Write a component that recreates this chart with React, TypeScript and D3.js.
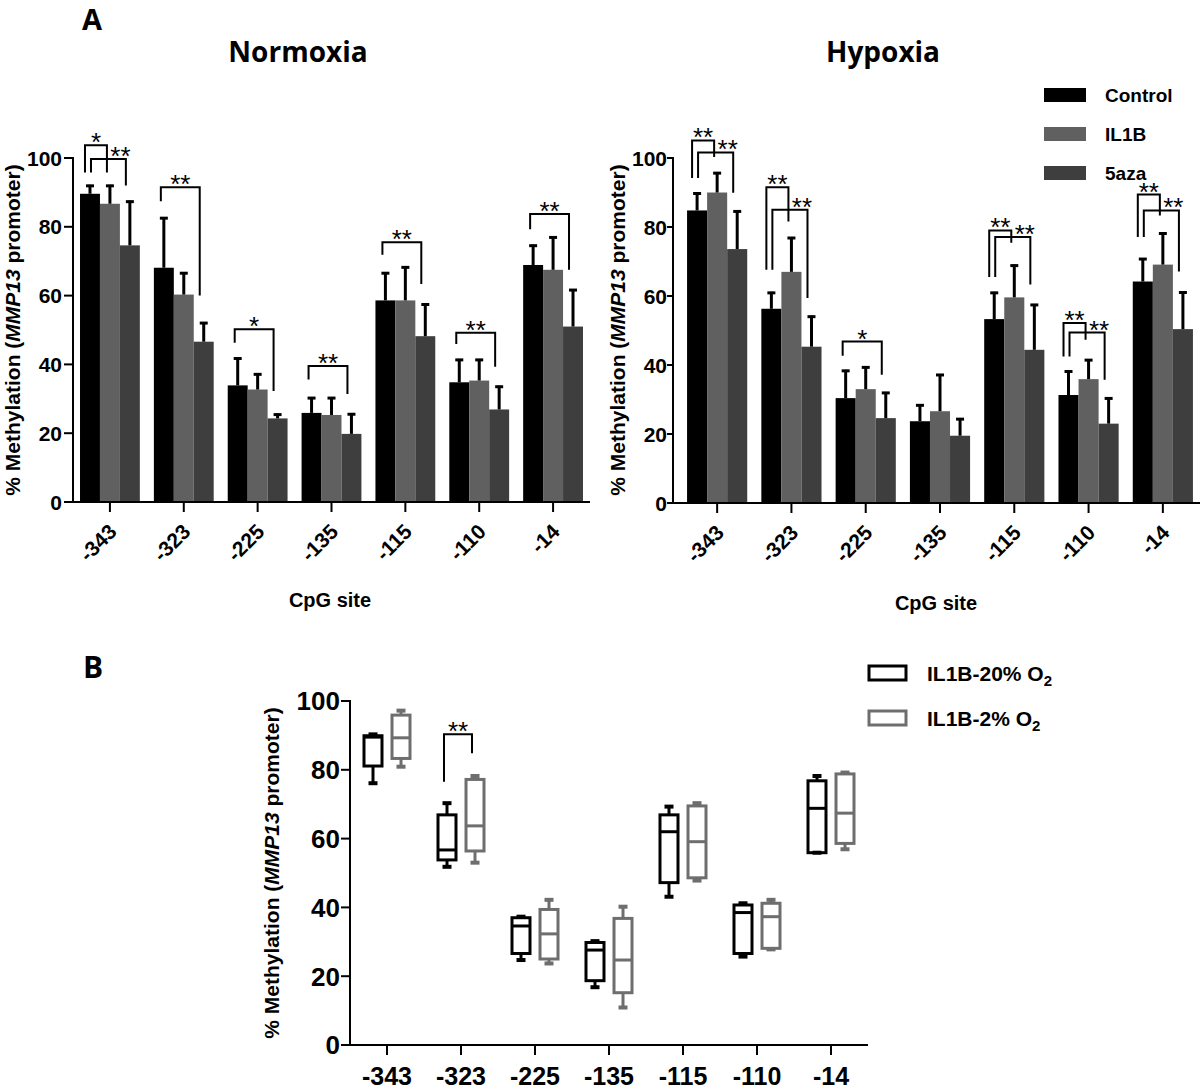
import React from 'react';
import * as d3 from 'd3';

// ---------- DATA ----------
const sites = ['-343', '-323', '-225', '-135', '-115', '-110', '-14'];
const treatments = ['Control', 'IL1B', '5aza'];
const treatmentColors = ['#000000', '#606060', '#3e3e3e'];
const yTicks = [0, 20, 40, 60, 80, 100];

// Normoxia (mean, SD)
const normoxiaControl = [89.6, 68.1, 33.9, 25.9, 58.6, 34.8, 68.9];
const normoxiaControlSD = [2.6, 14.7, 8.1, 4.6, 8.2, 6.8, 5.9];
const normoxiaIL1B = [86.7, 60.3, 32.7, 25.3, 58.6, 35.3, 67.5];
const normoxiaIL1BSD = [5.5, 6.5, 4.7, 5.2, 9.9, 6.3, 9.7];
const normoxia5aza = [74.6, 46.6, 24.3, 19.8, 48.2, 26.9, 51.0];
const normoxia5azaSD = [13.0, 5.7, 1.4, 6.0, 9.5, 6.9, 10.9];

// Hypoxia (mean, SD)
const hypoxiaControl = [84.8, 56.3, 30.4, 23.7, 53.3, 31.3, 64.2];
const hypoxiaControlSD = [5.2, 4.9, 8.2, 4.9, 7.9, 7.1, 6.8];
const hypoxiaIL1B = [90.0, 67.0, 33.0, 26.6, 59.6, 35.9, 69.1];
const hypoxiaIL1BSD = [5.9, 10.1, 6.6, 10.8, 9.5, 5.8, 9.3];
const hypoxia5aza = [73.6, 45.3, 24.6, 19.5, 44.4, 23.0, 50.4];
const hypoxia5azaSD = [11.2, 9.0, 7.6, 5.1, 13.3, 7.6, 10.9];

// significance brackets: site index, bars compared, heights (in % units)
const normoxiaBrackets = [
  { site: 0, from: 0, to: 1, top: 103.7, legFrom: 95.8, legTo: 95.8, label: '*', level: 1 },
  { site: 0, from: 0, to: 2, top: 99.7, legFrom: 95.8, legTo: 92.0, label: '**', level: 2 },
  { site: 1, from: 0, to: 2, top: 91.5, legFrom: 87.4, legTo: 60.0, label: '**', level: 0 },
  { site: 2, from: 0, to: 2, top: 50.2, legFrom: 46.3, legTo: 32.3, label: '*', level: 0 },
  { site: 3, from: 0, to: 2, top: 39.5, legFrom: 35.6, legTo: 31.4, label: '**', level: 0 },
  { site: 4, from: 0, to: 2, top: 75.5, legFrom: 71.9, legTo: 63.4, label: '**', level: 0 },
  { site: 5, from: 0, to: 2, top: 49.2, legFrom: 45.9, legTo: 39.3, label: '**', level: 0 },
  { site: 6, from: 0, to: 2, top: 83.7, legFrom: 79.3, legTo: 67.5, label: '**', level: 0 },
];
const hypoxiaBrackets = [
  { site: 0, from: 0, to: 1, top: 105.1, legFrom: 94.2, legTo: 100.3, label: '**', level: 1 },
  { site: 0, from: 0, to: 2, top: 101.6, legFrom: 94.2, legTo: 89.9, label: '**', level: 2 },
  { site: 1, from: 0, to: 1, top: 91.5, legFrom: 67.6, legTo: 81.6, label: '**', level: 1 },
  { site: 1, from: 0, to: 2, top: 85.0, legFrom: 67.6, legTo: 59.4, label: '**', level: 2 },
  { site: 2, from: 0, to: 2, top: 46.8, legFrom: 42.7, legTo: 37.2, label: '*', level: 0 },
  { site: 4, from: 0, to: 1, top: 79.0, legFrom: 65.5, legTo: 75.4, label: '**', level: 1 },
  { site: 4, from: 0, to: 2, top: 77.1, legFrom: 65.5, legTo: 63.3, label: '**', level: 2 },
  { site: 5, from: 0, to: 1, top: 52.2, legFrom: 42.5, legTo: 47.3, label: '**', level: 1 },
  { site: 5, from: 0, to: 2, top: 49.4, legFrom: 42.5, legTo: 35.7, label: '**', level: 2 },
  { site: 6, from: 0, to: 1, top: 89.4, legFrom: 77.1, legTo: 83.3, label: '**', level: 1 },
  { site: 6, from: 0, to: 2, top: 84.8, legFrom: 77.1, legTo: 67.1, label: '**', level: 2 },
];

// Panel B box plots: [min, q1, median, q3, max]
const boxSeries = ['IL1B-20% O', 'IL1B-2% O'];
const boxColors = ['#000000', '#6e6e6e'];
const il1b20 = [
  [76.1, 81.1, 89.5, 89.9, 90.3],
  [51.8, 53.8, 56.7, 66.9, 70.3],
  [24.7, 26.6, 34.6, 37.0, 37.3],
  [16.8, 18.7, 27.6, 29.8, 30.2],
  [43.1, 47.2, 62.0, 66.9, 69.3],
  [25.7, 26.6, 38.5, 40.7, 41.2],
  [55.9, 55.9, 68.8, 76.8, 78.2],
];
const il1b2 = [
  [80.9, 83.3, 89.3, 95.9, 97.2],
  [53.0, 56.4, 63.7, 77.2, 78.2],
  [23.7, 25.0, 32.3, 39.4, 42.2],
  [10.9, 15.2, 24.7, 36.8, 40.2],
  [47.8, 48.6, 59.1, 69.5, 70.3],
  [27.8, 28.1, 37.3, 41.2, 42.2],
  [56.9, 58.6, 67.4, 78.8, 79.2],
];
const boxBrackets = [{ site: 1, top: 90.3, legFrom: 76.5, legTo: 84.8, label: '**' }];

// ---------- STYLE ----------
const SANS = '"Liberation Sans", Arial, sans-serif';
const TITLE = '"Open Sans", sans-serif';

type Bracket = { site: number; from: number; to: number; top: number; legFrom: number; legTo: number; label: string; level: number };

function YTitle({ x, y, size }: { x: number; y: number; size: number }) {
  return (
    <text transform={`translate(${x},${y}) rotate(-90)`} textAnchor="middle" fontFamily={SANS}
      fontWeight="bold" fontSize={size} fill="#000">
      % Methylation (<tspan fontStyle="italic">MMP13</tspan> promoter)
    </text>
  );
}

function BarPanel({ x0, xStart, x1, yBottom, yTop, series, sds, brackets, title, titleX, cpgX, cpgY, tickLen, labelGap }:
  { x0: number; xStart: number; x1: number; yBottom: number; yTop: number; series: number[][]; sds: number[][];
    brackets: Bracket[]; title: string; titleX: number; cpgX: number; cpgY: number; tickLen: number; labelGap: number }) {
  const xs = d3.scaleBand<string>().domain(sites).range([xStart, x1]).paddingInner(0.19).paddingOuter(0.095);
  const xi = d3.scaleBand<string>().domain(treatments).range([0, xs.bandwidth()]);
  const y = d3.scaleLinear().domain([0, 100]).range([yBottom, yTop]);
  const bw = xi.bandwidth();
  const barCenter = (s: number, t: number) => (xs(sites[s]) as number) + (xi(treatments[t]) as number) + bw / 2;
  const offs: Record<number, [number, number]> = { 0: [-3, -4], 1: [-5, -3], 2: [1, -4] };
  return (
    <g>
      <text x={titleX} y={62} textAnchor="middle" fontFamily={TITLE} fontWeight="bold" fontSize={28}>{title}</text>
      {series.map((vals, t) => vals.map((v, s) => {
        const bx = (xs(sites[s]) as number) + (xi(treatments[t]) as number);
        return <rect key={`b${t}-${s}`} x={bx} y={y(v)} width={bw} height={y(0) - y(v)} fill={treatmentColors[t]} />;
      }))}
      {series.map((vals, t) => vals.map((v, s) => {
        const cx = barCenter(s, t);
        const top = y(v + sds[t][s]);
        return (
          <g key={`e${t}-${s}`} stroke="#000" strokeWidth={3}>
            <line x1={cx} x2={cx} y1={y(v)} y2={top} />
            <line x1={cx - 4} x2={cx + 4} y1={top + 1} y2={top + 1} />
          </g>
        );
      }))}
      {brackets.map((b, i) => {
        const [oa, ob] = offs[b.level];
        const xa = barCenter(b.site, b.from) + oa;
        const xb = barCenter(b.site, b.to) + ob;
        let sx = (xa + xb) / 2;
        if (b.level === 2) {
          const first = brackets.find(o => o.site === b.site && o.level === 1) as Bracket;
          const fr = barCenter(first.site, first.to) + offs[1][1];
          sx = (fr + xb) / 2 + 4;
        }
        return (
          <g key={`k${i}`}>
            <path d={`M${xa},${y(b.legFrom)}V${y(b.top)}H${xb}V${y(b.legTo)}`} fill="none" stroke="#000" strokeWidth={2} />
            <text x={sx} y={y(b.top) + 6} textAnchor="middle" fontFamily={SANS} fontSize={26}>{b.label}</text>
          </g>
        );
      })}
      <line x1={x0} x2={x0} y1={yTop - 1} y2={yBottom + 1} stroke="#000" strokeWidth={2} />
      <line x1={x0 - 1} x2={x1} y1={yBottom} y2={yBottom} stroke="#000" strokeWidth={2} />
      {yTicks.map(t => (
        <g key={`yt${t}`}>
          <line x1={x0 - tickLen} x2={x0} y1={y(t)} y2={y(t)} stroke="#000" strokeWidth={2} />
          <text x={x0 - labelGap} y={y(t)} dy="0.36em" textAnchor="end" fontFamily={SANS} fontWeight="bold" fontSize={21}>{t}</text>
        </g>
      ))}
      {sites.map((s, i) => {
        const cx = (xs(s) as number) + xs.bandwidth() / 2;
        return (
          <g key={`xt${i}`}>
            <line x1={cx} x2={cx} y1={yBottom} y2={yBottom + 10} stroke="#000" strokeWidth={2} />
            <text transform={`translate(${cx + 8},${yBottom + 31}) rotate(-45)`} textAnchor="end"
              fontFamily={SANS} fontWeight="bold" fontSize={21}>{s}</text>
          </g>
        );
      })}
      <text x={cpgX} y={cpgY} textAnchor="middle" fontFamily={SANS} fontWeight="bold" fontSize={20}>CpG site</text>
    </g>
  );
}

function BoxPanel() {
  const x0 = 350, x1 = 868, yB = 1045, yT = 701;
  const xs = d3.scaleBand<string>().domain(sites).range([x0, x1]);
  const xi = d3.scaleBand<string>().domain(boxSeries).range([0, xs.bandwidth()]).paddingInner(0.286).paddingOuter(0.464);
  const y = d3.scaleLinear().domain([0, 100]).range([yB, yT]);
  const bw = xi.bandwidth();
  const data = [il1b20, il1b2];
  const center = (s: number, k: number) => (xs(sites[s]) as number) + (xi(boxSeries[k]) as number) + bw / 2;
  return (
    <g>
      <text x={83} y={678} fontFamily={TITLE} fontWeight="bold" fontSize={30}>B</text>
      {data.map((ser, k) => ser.map((d, s) => {
        const [mn, q1, md, q3, mx] = d;
        const cx = center(s, k);
        const bx = (xs(sites[s]) as number) + (xi(boxSeries[k]) as number);
        const col = boxColors[k];
        return (
          <g key={`bx${k}-${s}`} stroke={col} strokeWidth={3} fill="none">
            <line x1={cx} x2={cx} y1={y(mx)} y2={y(q3)} />
            <line x1={cx} x2={cx} y1={y(q1)} y2={y(mn)} />
            <line x1={cx - 4.5} x2={cx + 4.5} y1={y(mx)} y2={y(mx)} strokeWidth={4} />
            <line x1={cx - 4.5} x2={cx + 4.5} y1={y(mn)} y2={y(mn)} strokeWidth={4} />
            <rect x={bx + 1} y={y(q3)} width={bw - 2} height={y(q1) - y(q3)} />
            <line x1={bx + 1} x2={bx + bw - 1} y1={y(md)} y2={y(md)} />
          </g>
        );
      }))}
      {boxBrackets.map((b, i) => {
        const xa = center(b.site, 0) - 3;
        const xb = center(b.site, 1) - 3;
        return (
          <g key={`bb${i}`}>
            <path d={`M${xa},${y(b.legFrom)}V${y(b.top)}H${xb}V${y(b.legTo)}`} fill="none" stroke="#000" strokeWidth={2} />
            <text x={(xa + xb) / 2} y={y(b.top) + 6} textAnchor="middle" fontFamily={SANS} fontSize={26}>{b.label}</text>
          </g>
        );
      })}
      <line x1={x0} x2={x0} y1={yT - 1} y2={yB + 1} stroke="#000" strokeWidth={2} />
      <line x1={x0 - 1} x2={x1} y1={yB} y2={yB} stroke="#000" strokeWidth={2} />
      {yTicks.map(t => (
        <g key={`byt${t}`}>
          <line x1={x0 - 9} x2={x0} y1={y(t)} y2={y(t)} stroke="#000" strokeWidth={2} />
          <text x={x0 - 10} y={y(t)} dy="0.36em" textAnchor="end" fontFamily={SANS} fontWeight="bold" fontSize={26}>{t}</text>
        </g>
      ))}
      {sites.map((s, i) => {
        const cx = (xs(s) as number) + xs.bandwidth() / 2;
        return (
          <g key={`bxt${i}`}>
            <line x1={cx} x2={cx} y1={yB} y2={yB + 10} stroke="#000" strokeWidth={2} />
            <text x={cx} y={1085} textAnchor="middle" fontFamily={SANS} fontWeight="bold" fontSize={25}>{s}</text>
          </g>
        );
      })}
      <YTitle x={279} y={(yB + yT) / 2} size={21} />
      {boxSeries.map((name, k) => (
        <g key={`bl${k}`}>
          <rect x={869} y={666 + k * 45} width={37} height={14} fill="none" stroke={boxColors[k]} strokeWidth={3} />
          <text x={927} y={681 + k * 45} fontFamily={SANS} fontWeight="bold" fontSize={21}>
            {name}<tspan dy={5} fontSize={15}>2</tspan>
          </text>
        </g>
      ))}
    </g>
  );
}

export default function App() {
  return (
    <svg width={1200} height={1089} viewBox="0 0 1200 1089"
      style={{ position: 'absolute', left: 0, top: 0, display: 'block', background: '#fff' }}>
      <rect x={0} y={0} width={1200} height={1089} fill="#fff" />
      <text x={82} y={30} fontFamily={TITLE} fontWeight="bold" fontSize={29}>A</text>
      <BarPanel x0={73} xStart={73} x1={590} yBottom={502} yTop={158}
        series={[normoxiaControl, normoxiaIL1B, normoxia5aza]}
        sds={[normoxiaControlSD, normoxiaIL1BSD, normoxia5azaSD]}
        brackets={normoxiaBrackets} title="Normoxia" titleX={298} cpgX={330} cpgY={607}
        tickLen={9} labelGap={11} />
      <BarPanel x0={673} xStart={680} x1={1200} yBottom={503} yTop={158}
        series={[hypoxiaControl, hypoxiaIL1B, hypoxia5aza]}
        sds={[hypoxiaControlSD, hypoxiaIL1BSD, hypoxia5azaSD]}
        brackets={hypoxiaBrackets} title="Hypoxia" titleX={883} cpgX={936} cpgY={610}
        tickLen={6} labelGap={6} />
      <YTitle x={20} y={330} size={21} />
      <YTitle x={625} y={330} size={21} />
      {treatments.map((t, i) => (
        <g key={`lg${i}`}>
          <rect x={1044} y={88 + i * 39} width={42} height={14} fill={treatmentColors[i]} />
          <text x={1105} y={102 + i * 39} fontFamily={SANS} fontWeight="bold" fontSize={19}>{t}</text>
        </g>
      ))}
      <BoxPanel />
    </svg>
  );
}
